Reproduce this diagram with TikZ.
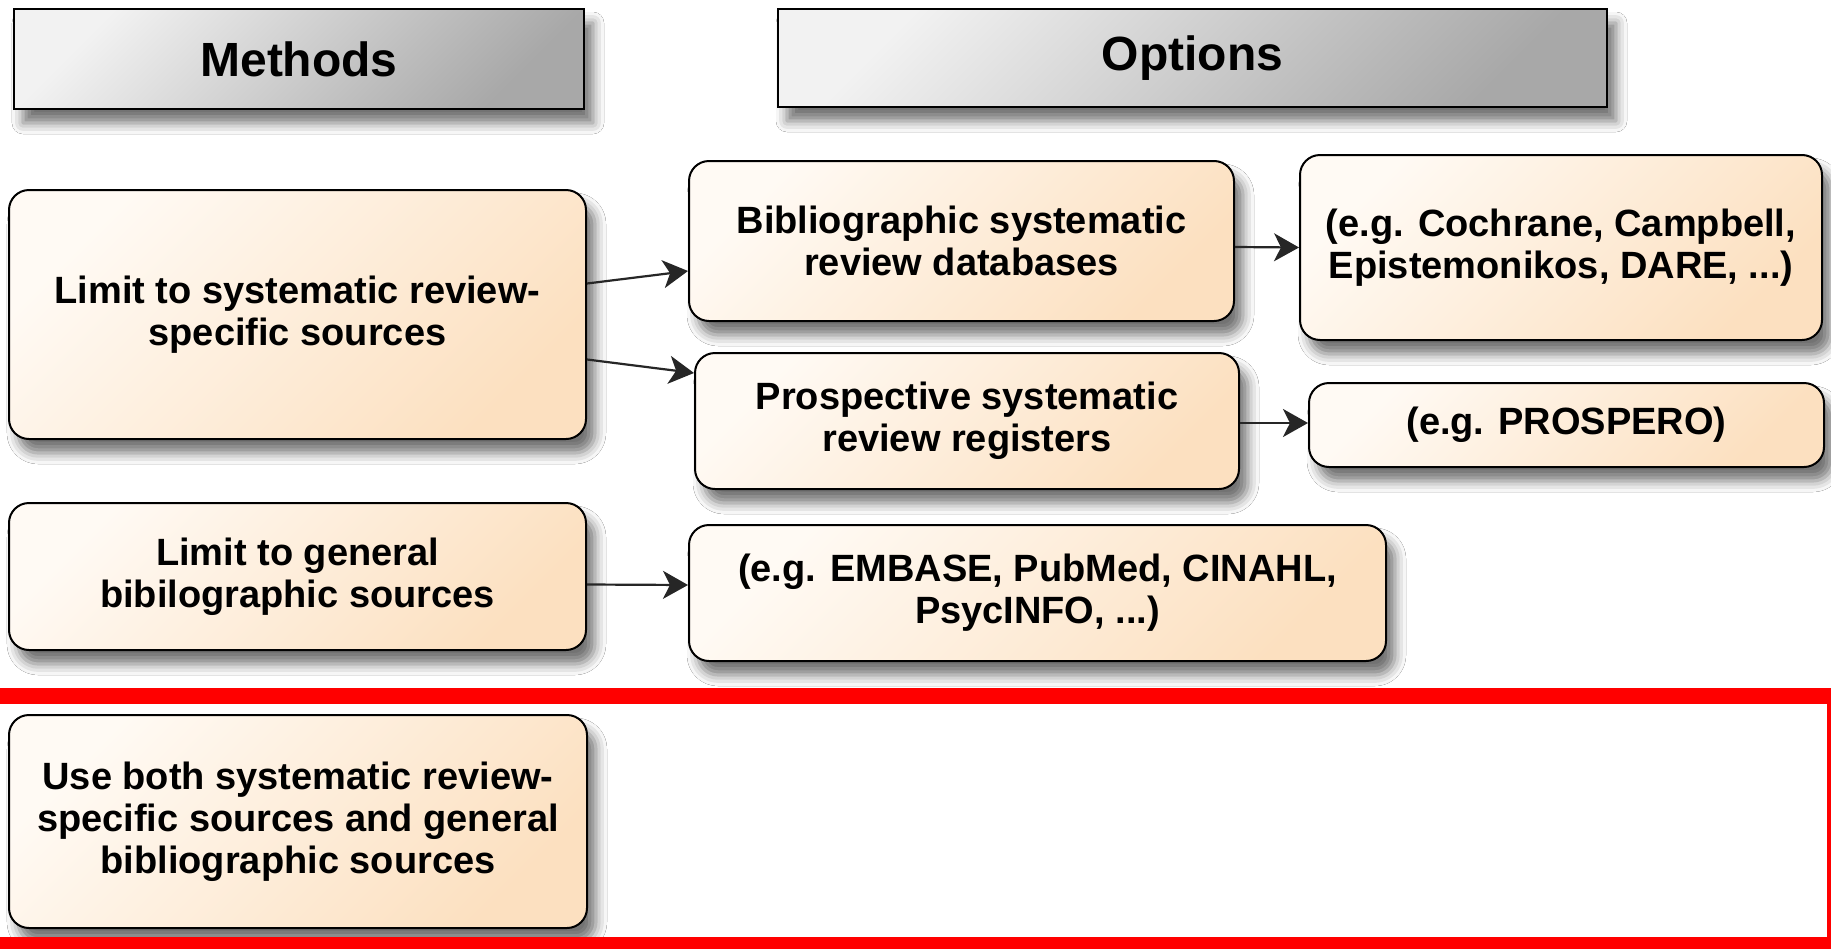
\documentclass[tikz,border=0pt]{standalone}
\usepackage{fontspec}
\setmainfont{Liberation Sans}
\usetikzlibrary{arrows.meta,shadows.blur,calc}
\definecolor{peachL}{HTML}{FFFAF4}
\definecolor{peachR}{HTML}{FCE0C0}
\definecolor{greyL}{HTML}{F2F2F2}
\definecolor{greyR}{HTML}{A8A8A8}
\definecolor{redframe}{HTML}{FF0000}
\begin{document}
\begin{tikzpicture}[x=1pt,y=-1pt,
  sh/.style={blur shadow={shadow xshift=9pt, shadow yshift=-14pt, shadow blur radius=11pt, shadow opacity=55}},
  box/.style={sh, draw=black, line width=2pt, rounded corners=20pt,
    left color=peachL, right color=peachR, shading angle=45,
    align=center, inner sep=0pt,
    font=\bfseries\fontsize{38}{42}\selectfont},
  header/.style={sh, draw=black, line width=2pt,
    left color=greyL, right color=greyR, shading angle=45,
    align=center, inner sep=0pt,
    font=\bfseries\fontsize{48}{56}\selectfont},
  link/.style={-{Stealth[length=25pt,width=28pt,inset=7pt]}, line width=2.2pt, draw=black!85},
  frame/.style={draw=redframe, line width=16pt}
]
\useasboundingbox (0,0) rectangle (1831,948);
\fill[white] (0,0) rectangle (1831,948);

% headers
\node[header, minimum width=570pt, minimum height=100pt] (methods) at (299,59) {Methods};
\node[header, minimum width=829pt, minimum height=98pt] (options) at (1192.5,58) {Options};

% boxes
\node[box, minimum width=577pt, minimum height=249pt] (lim1) at (297.5,314.5)
  {Limit to systematic review-\\specific sources};
\node[box, minimum width=545pt, minimum height=160pt] (bib) at (961.5,241)
  {Bibliographic systematic\\review databases};
\node[box, minimum width=522pt, minimum height=185pt] (coch) at (1561,247.5)
  {(e.g. Cochrane, Campbell,\\Epistemonikos, DARE, ...)};
\node[box, minimum width=544pt, minimum height=136pt] (prosp) at (967,421)
  {Prospective systematic\\review registers};
\node[box, minimum width=515pt, minimum height=84pt] (pros2) at (1566.5,425)
  {(e.g. PROSPERO)};
\node[box, minimum width=577pt, minimum height=147pt] (lim2) at (297.5,576.5)
  {Limit to general\\bibilographic sources};
\node[box, minimum width=697pt, minimum height=136pt] (emb) at (1037.5,593)
  {(e.g. EMBASE, PubMed, CINAHL,\\PsycINFO, ...)};
\node[box, minimum width=578pt, minimum height=213pt] (both) at (298,821.5)
  {Use both systematic review-\\specific sources and general\\bibliographic sources};

% connectors
\draw[link] ([yshift=31pt]lim1.east) -- ([yshift=-30pt]bib.west);
\draw[link] ([yshift=-45pt]lim1.east) -- ([yshift=48pt]prosp.west);
\draw[link] ([yshift=-6pt]bib.east) -- (coch.west);
\draw[link] ([yshift=-2pt]prosp.east) -- ([yshift=2pt]pros2.west);
\draw[link] ([yshift=-8pt]lim2.east) -- ([yshift=8pt]emb.west);

% red frame
\draw[frame] (-8,696) rectangle (1835,945);
\end{tikzpicture}
\end{document}
